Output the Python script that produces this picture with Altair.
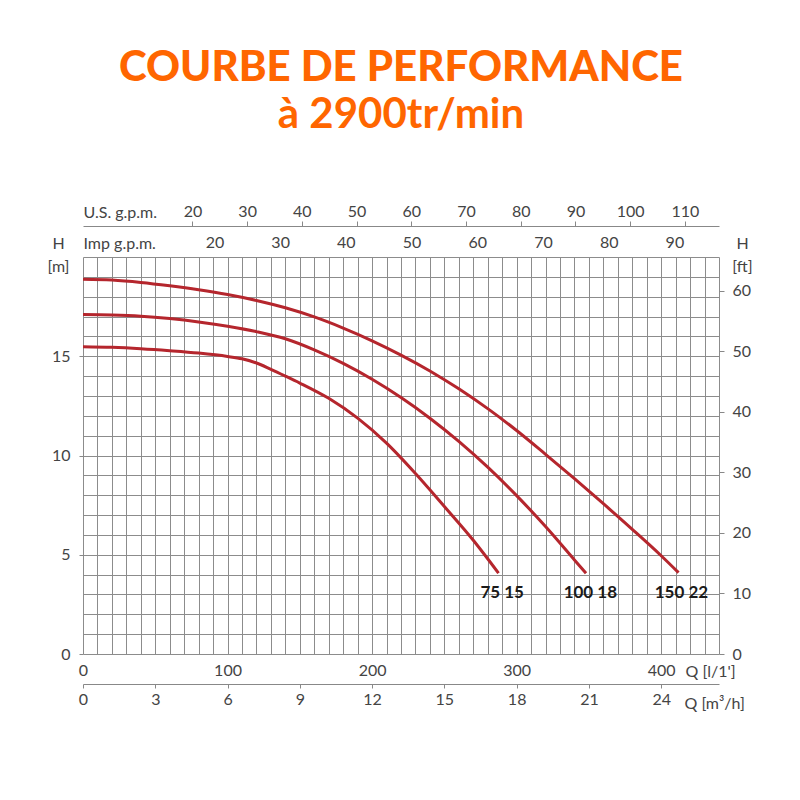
import altair as alt
import pandas as pd

# ---------------- data ----------------
models = ["75 15", "100 18", "150 22"]

q_75 = [0, 20, 40, 60, 80, 100, 110, 120, 130, 140, 150, 170, 190, 210, 230, 250, 270, 287.5]
h_75 = [15.48, 15.45, 15.38, 15.28, 15.16, 14.99, 14.87, 14.66, 14.34, 14.0, 13.65, 12.88, 11.88, 10.62, 9.09, 7.43, 5.73, 4.07]

q_100 = [0, 20, 40, 60, 80, 100, 120, 140, 160, 180, 200, 220, 240, 260, 280, 300, 320, 340, 348]
h_100 = [17.1, 17.08, 17.02, 16.9, 16.73, 16.51, 16.24, 15.88, 15.32, 14.64, 13.84, 12.92, 11.88, 10.71, 9.41, 7.98, 6.42, 4.74, 4.07]

q_150 = [0, 20, 40, 60, 80, 100, 120, 140, 160, 180, 200, 220, 240, 260, 280, 300, 320, 340, 360, 380, 400, 412]
h_150 = [18.88, 18.84, 18.72, 18.55, 18.35, 18.11, 17.81, 17.44, 16.98, 16.42, 15.78, 15.06, 14.26, 13.36, 12.36, 11.26, 10.06, 8.83, 7.57, 6.28, 4.95, 4.1]

label_q = [290, 351, 414]
label_h = [3.05, 3.05, 3.05]

lpm_ticks = [0, 100, 200, 300, 400]
m3h_ticks = [0, 3, 6, 9, 12, 15, 18, 21, 24]
us_ticks = [20, 30, 40, 50, 60, 70, 80, 90, 100, 110]
imp_ticks = [20, 30, 40, 50, 60, 70, 80, 90]
m_ticks = [0, 5, 10, 15]
ft_ticks = [0, 10, 20, 30, 40, 50, 60]
grid_q = list(range(0, 441, 10))
grid_h = list(range(0, 21, 1))

rows = []
for m, qs, hs in [(models[0], q_75, h_75), (models[1], q_100, h_100), (models[2], q_150, h_150)]:
    for q, h in zip(qs, hs):
        rows.append({"model": m, "Q": q, "H": h})
df = pd.DataFrame(rows)
lab = pd.DataFrame({"model": models, "Q": label_q, "H": label_h})

US = 3.785411784
IMP = 4.54609
FT = 3.28084

xs = alt.Scale(domain=[0, 440], nice=False, zero=True)
ys = alt.Scale(domain=[0, 20], nice=False, zero=True)

FONT = "Lato"
LBL = "#444444"

# ---------------- axes ----------------
grid_x = alt.Axis(orient="bottom", values=grid_q, grid=True, labels=False, ticks=False,
                  domain=False, title=None)
grid_y = alt.Axis(orient="left", values=grid_h, grid=True, labels=False, ticks=False,
                  domain=False, title=None)

lpm_axis = alt.Axis(orient="bottom", values=lpm_ticks, grid=False, ticks=False, tickSize=0,
                    domain=False, labelPadding=8, labelFlush=False,
                    title="Q [l/1']", titleX=602, titleY=22, titleAlign="left",
                    titleBaseline="alphabetic")
m_axis = alt.Axis(orient="left", values=m_ticks, grid=False, ticks=True, tickSize=4,
                  domain=False, labelPadding=9, labelFlush=False,
                  title=["H", "[m]"], titleX=-25, titleY=-9, titleAngle=0, titleAlign="center",
                  titleBaseline="alphabetic", titleLineHeight=23)

m3h_axis = alt.Axis(orient="bottom", offset=30, values=[v * 50 / 3 for v in m3h_ticks],
                    labelExpr="format(round(datum.value*0.06),'d')", grid=False, ticks=True,
                    tickSize=4, domain=True, labelPadding=3, labelFlush=False,
                    title="Q [m³/h]", titleX=601, titleY=24, titleAlign="left",
                    titleBaseline="alphabetic")
ft_axis = alt.Axis(orient="right", values=[f / FT for f in ft_ticks],
                   labelExpr="format(round(datum.value*3.28084),'d')", grid=False, ticks=True,
                   tickSize=5, domain=False, labelPadding=8, labelFlush=False,
                   title=["H", "[ft]"], titleX=23, titleY=-9, titleAngle=0, titleAlign="center",
                   titleBaseline="alphabetic", titleLineHeight=23)

us_axis = alt.Axis(orient="top", offset=31, values=[g * US for g in us_ticks],
                   labelExpr="format(round(datum.value/3.785411784),'d')", grid=False,
                   ticks=True, tickSize=5, domain=True, labelPadding=2, labelFlush=False,
                   title="U.S. g.p.m.", titleX=0, titleY=-9, titleAlign="left",
                   titleBaseline="alphabetic")
imp_axis = alt.Axis(orient="top", values=[g * IMP for g in imp_ticks],
                    labelExpr="format(round(datum.value/4.54609),'d')", grid=False,
                    ticks=False, tickSize=0, domain=False, labelPadding=7, labelFlush=False,
                    title="Imp g.p.m.", titleX=0, titleY=-9, titleAlign="left",
                    titleBaseline="alphabetic")

# ---------------- layers ----------------
curves = alt.Chart(df).mark_line(color="#b5262d", strokeWidth=3, interpolate="monotone").encode(
    x=alt.X("Q:Q", scale=xs, axis=grid_x),
    y=alt.Y("H:Q", scale=ys, axis=grid_y),
    detail="model:N",
)

inv = alt.Chart(df).mark_point(opacity=0)

ax1 = inv.encode(x=alt.X("Q:Q", scale=xs, axis=lpm_axis), y=alt.Y("H:Q", scale=ys, axis=m_axis))
ax2 = inv.encode(x=alt.X("Q:Q", scale=xs, axis=m3h_axis), y=alt.Y("H:Q", scale=ys, axis=ft_axis))
ax3 = inv.encode(x=alt.X("Q:Q", scale=xs, axis=us_axis), y=alt.Y("H:Q", scale=ys, axis=None))
ax4 = inv.encode(x=alt.X("Q:Q", scale=xs, axis=imp_axis), y=alt.Y("H:Q", scale=ys, axis=None))

labels = alt.Chart(lab).mark_text(font=FONT, fontSize=17, fontWeight="bold", color="#1a1a1a",
                                  align="center", baseline="middle").encode(
    x=alt.X("Q:Q", scale=xs, axis=None),
    y=alt.Y("H:Q", scale=ys, axis=None),
    text="model:N",
)

chart = alt.layer(curves, ax1, ax2, ax3, ax4, labels).resolve_axis(
    x="independent", y="independent"
).properties(
    width=636,
    height=397,
    autosize=alt.AutoSizeParams(type="none"),
    padding={"left": 83, "top": 257, "right": 81, "bottom": 146},
    title=alt.TitleParams(
        "COURBE DE PERFORMANCE",
        subtitle="à 2900tr/min",
        font=FONT, fontSize=42, fontWeight=900, color="#FF6600",
        subtitleFont=FONT, subtitleFontSize=42, subtitleFontWeight="bold",
        subtitleColor="#FF6600", subtitlePadding=5,
        anchor="middle", frame="group", offset=66,
    ),
).configure_view(strokeWidth=0).configure_axis(
    labelFont=FONT, labelFontSize=16, labelColor=LBL,
    titleFont=FONT, titleFontSize=16, titleColor=LBL, titleFontWeight="normal",
    gridColor="#8c8c8c", gridWidth=1, tickColor="#888888", domainColor="#888888",
)

chart.save("out.html", embed_options={"renderer": "svg", "actions": False})
